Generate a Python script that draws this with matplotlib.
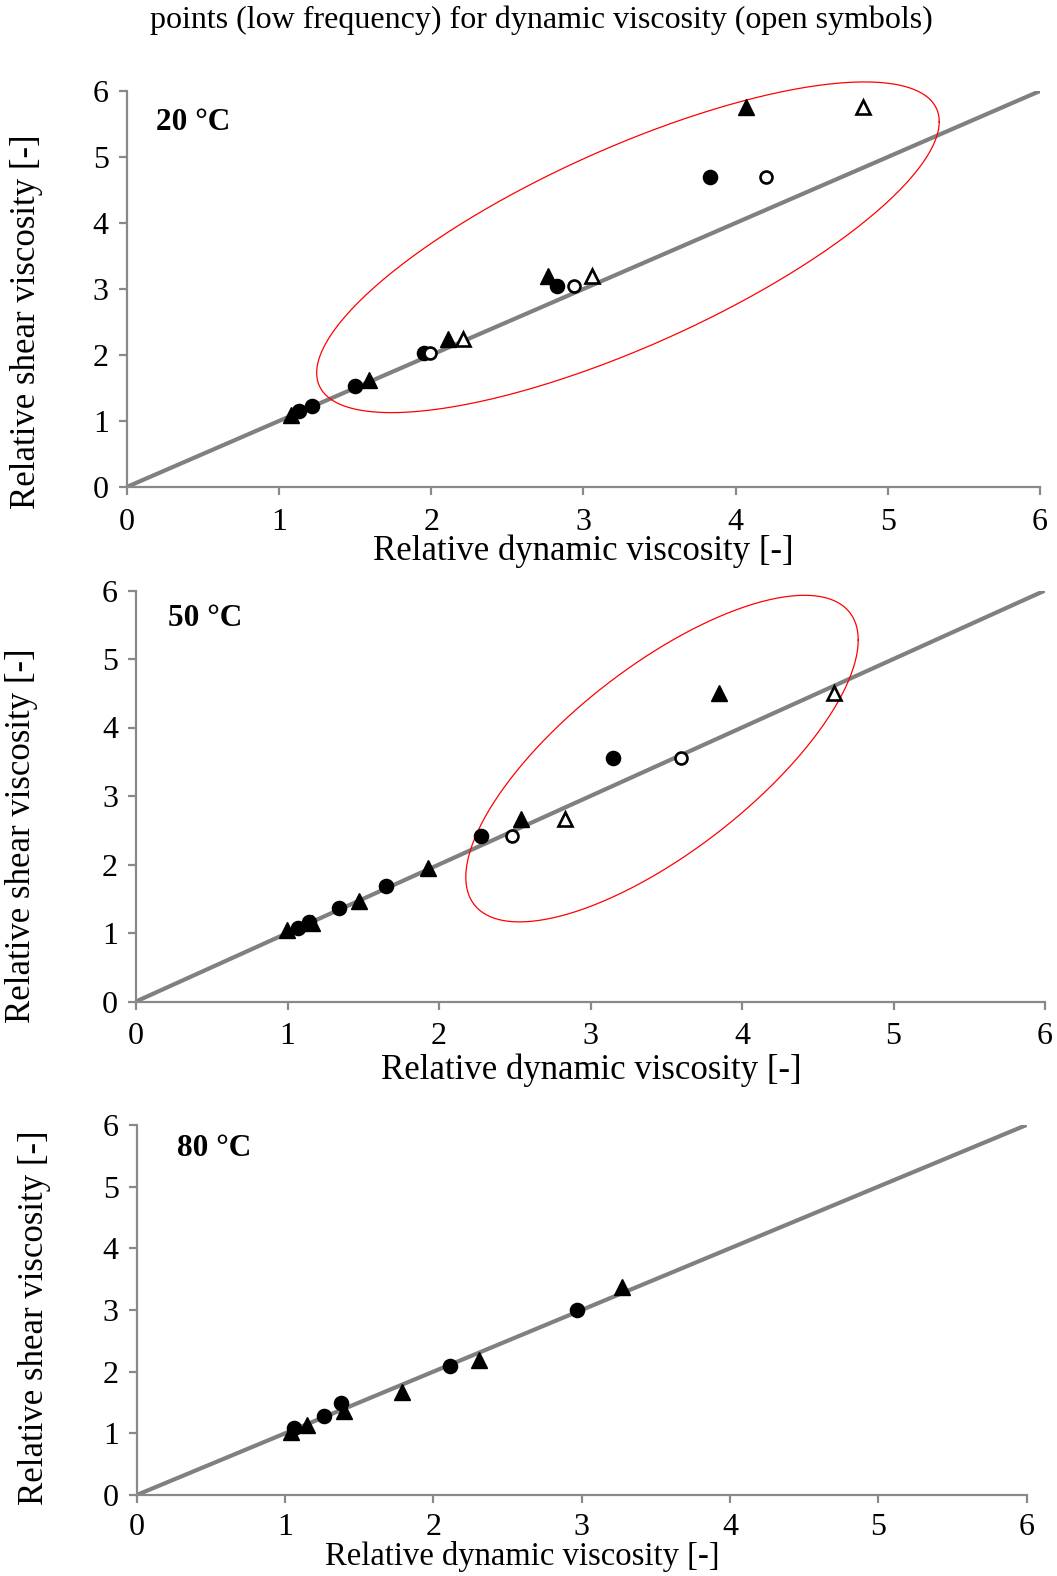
import numpy as np
import matplotlib
matplotlib.use("Agg")
import matplotlib.pyplot as plt

plt.rcParams['font.family'] = ['Liberation Serif', 'DejaVu Serif']

# ---- data: relative shear viscosity (y) vs relative dynamic viscosity (x) ----
# 20 °C
p20_fc_x = [1.13, 1.22, 1.50, 1.95, 2.83, 3.83]
p20_fc_y = [1.15, 1.23, 1.53, 2.03, 3.05, 4.70]
p20_oc_x = [1.99, 2.94, 4.20]
p20_oc_y = [2.03, 3.05, 4.70]
p20_ft_x = [1.08, 1.59, 2.11, 2.77, 4.07]
p20_ft_y = [1.09, 1.62, 2.25, 3.20, 5.76]
p20_ot_x = [2.21, 3.06, 4.84]
p20_ot_y = [2.25, 3.20, 5.76]

# 50 °C
p50_fc_x = [1.07, 1.14, 1.34, 1.65, 2.28, 3.15]
p50_fc_y = [1.07, 1.16, 1.37, 1.69, 2.42, 3.55]
p50_oc_x = [2.48, 3.60]
p50_oc_y = [2.42, 3.55]
p50_ft_x = [0.995, 1.16, 1.47, 1.93, 2.54, 3.85]
p50_ft_y = [1.04, 1.14, 1.47, 1.95, 2.67, 4.50]
p50_ot_x = [2.83, 4.61]
p50_ot_y = [2.67, 4.50]

# 80 °C
p80_fc_x = [1.06, 1.26, 1.38, 2.11, 2.97]
p80_fc_y = [1.08, 1.28, 1.49, 2.10, 3.00]
p80_ft_x = [1.04, 1.15, 1.40, 1.79, 2.31, 3.27]
p80_ft_y = [1.02, 1.13, 1.37, 1.67, 2.19, 3.37]

ticks = [0, 1, 2, 3, 4, 5, 6]
panel_titles = ["20 °C", "50 °C", "80 °C"]
xlabel = "Relative dynamic viscosity [-]"
ylabel = "Relative shear viscosity [-]"
title = "points (low frequency) for dynamic viscosity (open symbols)"

W, H = 1057, 1576
fig = plt.figure(figsize=(W / 100, H / 100), dpi=100)

GRAY = '#898989'


def px_axes(left, top, right, bottom):
    return fig.add_axes([left / W, 1 - bottom / H, (right - left) / W, (bottom - top) / H])


def style(ax):
    ax.set_xlim(0, 6)
    ax.set_ylim(0, 6)
    ax.set_xticks(ticks)
    ax.set_yticks(ticks)
    for s in ('top', 'right'):
        ax.spines[s].set_visible(False)
    for s in ('left', 'bottom'):
        ax.spines[s].set_color(GRAY)
        ax.spines[s].set_linewidth(1.6)
    ax.tick_params(axis='both', direction='out', length=6, width=1.6, color=GRAY,
                   labelsize=23)
    ax.tick_params(axis='x', pad=9)
    ax.tick_params(axis='y', pad=7)
    ax.patch.set_alpha(0)
    ax.plot(ticks, ticks, color='#808080', lw=3, zorder=2, solid_capstyle='butt')


def points(ax, fc, oc, ft, ot):
    mk = dict(linestyle='none', zorder=4, clip_on=False)
    if ft:
        ax.plot(*ft, marker='^', ms=11, color='black', mec='black', **mk)
    if ot:
        ax.plot(*ot, marker='^', ms=10, mfc='white', mec='black', mew=1.9, **mk)
    if fc:
        ax.plot(*fc, marker='o', ms=10.2, color='black', mec='black', **mk)
    if oc:
        ax.plot(*oc, marker='o', ms=8.6, mfc='white', mec='black', mew=1.9, **mk)


def ellipse(ax, cx, cy, ax_, ay_, by_):
    t = np.linspace(0, 2 * np.pi, 400)
    ax.plot(cx + ax_ * np.cos(t), cy + ay_ * np.cos(t) + by_ * np.sin(t),
            color='red', lw=0.9, zorder=3, clip_on=False)


ax1 = px_axes(126.7, 91, 1040, 487)
ax2 = px_axes(136, 590.5, 1045, 1001.5)
ax3 = px_axes(136.7, 1125, 1026.5, 1495)
for a in (ax1, ax2, ax3):
    style(a)
ax3.tick_params(axis='x', pad=7)

points(ax1, (p20_fc_x, p20_fc_y), (p20_oc_x, p20_oc_y), (p20_ft_x, p20_ft_y), (p20_ot_x, p20_ot_y))
points(ax2, (p50_fc_x, p50_fc_y), (p50_oc_x, p50_oc_y), (p50_ft_x, p50_ft_y), (p50_ot_x, p50_ot_y))
points(ax3, (p80_fc_x, p80_fc_y), None, (p80_ft_x, p80_ft_y), None)

ellipse(ax1, 3.293, 3.632, 2.045, 1.903, 1.629)
ellipse(ax2, 3.472, 3.546, 1.295, 1.731, 1.639)

# panel labels
for (x, y), txt in zip([(156, 123), (168, 619), (177, 1149)], panel_titles):
    fig.text(x / W, 1 - y / H, txt, fontsize=22.5, fontweight='bold', ha='left', va='center')

# axis labels (the bottom one sits tight against its tick labels)
for (x, y), fs in zip([(583, 551), (591, 1070), (522, 1556)], [25, 25, 23.5]):
    fig.text(x / W, 1 - y / H, xlabel, fontsize=fs, ha='center', va='center')
for (x, y) in [(27, 322), (22, 836), (35, 1318)]:
    fig.text(x / W, 1 - y / H, ylabel, fontsize=25, ha='center', va='center', rotation=90)

fig.text(541 / W, 1 - 20 / H, title, fontsize=23, ha='center', va='center')

fig.savefig('out.png', dpi=100, facecolor='white')
